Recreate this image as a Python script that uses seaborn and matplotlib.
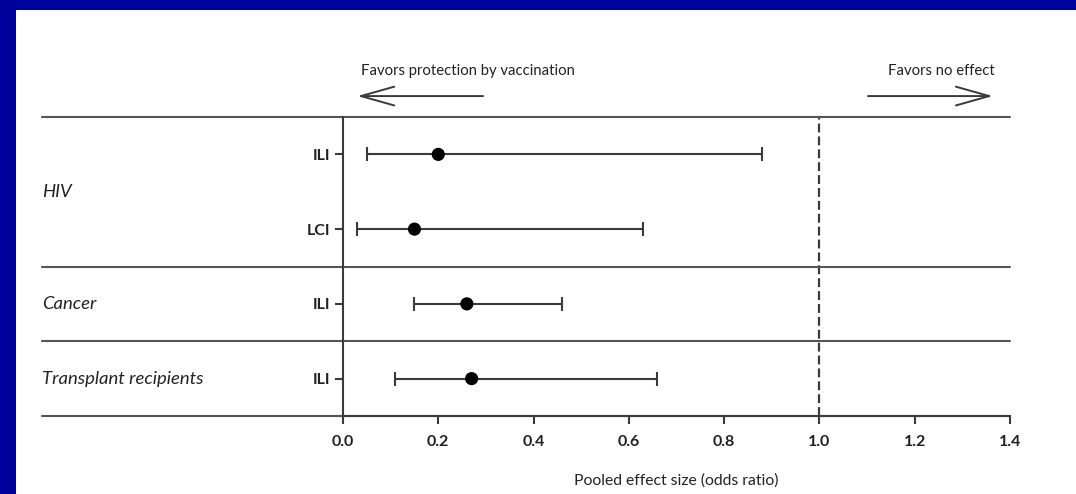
import pandas as pd
import matplotlib.pyplot as plt
import seaborn as sns
from matplotlib.patches import Rectangle

# Pooled odds ratios with 95% CI (top to bottom)
groups = ['HIV', 'HIV', 'Cancer', 'Transplant recipients']
outcomes = ['ILI', 'LCI', 'ILI', 'ILI']
odds_ratio = [0.20, 0.15, 0.26, 0.27]
ci_low = [0.05, 0.03, 0.15, 0.11]
ci_high = [0.88, 0.63, 0.46, 0.66]
x_ticks = [0.0, 0.2, 0.4, 0.6, 0.8, 1.0, 1.2, 1.4]

df = pd.DataFrame({'group': groups, 'outcome': outcomes, 'OR': odds_ratio,
                   'lo': ci_low, 'hi': ci_high})
df['row'] = range(len(df))

sns.set_style('ticks')
plt.rcParams['font.family'] = ['Lato', 'DejaVu Sans']

line_col = '#3a3a3a'
text_col = '#222222'

fig = plt.figure(figsize=(10.76, 4.94), dpi=100)
fig.patch.set_facecolor('#00009c')
# white slide panel inside the blue frame
fig.add_artist(Rectangle((16 / 1076, 0), 1, 1 - 10 / 494, transform=fig.transFigure,
                         facecolor='white', edgecolor='none', zorder=-5))

ax = fig.add_axes([343 / 1076, 1 - 416 / 494, 667 / 1076, 299 / 494])
ax.set_facecolor('none')

# confidence intervals
ax.errorbar(df['OR'], df['row'], xerr=[df['OR'] - df['lo'], df['hi'] - df['OR']],
            fmt='none', ecolor=line_col, elinewidth=1.5, capsize=5, capthick=1.5, zorder=2)
# point estimates
sns.scatterplot(data=df, x='OR', y='row', color='black', s=90, edgecolor='none',
                ax=ax, zorder=3, legend=False)

# line of no effect
ax.axvline(1.0, color=line_col, lw=1.6, ls=(0, (4, 1.8)), zorder=1)

ax.set_xlim(0, 1.4)
ax.set_ylim(3.5, -0.5)

# horizontal separators, extended into the label area
left_ext = (42 - 343) / 667
for yy in [-0.5, 1.5, 2.5, 3.5]:
    ax.plot([left_ext, 1], [yy, yy], transform=ax.get_yaxis_transform(),
            color='#555555', lw=1.5, clip_on=False, zorder=1)

# group labels
group_pos = df.groupby('group', sort=False)['row'].mean()
for name, yy in group_pos.items():
    ax.text(left_ext, yy, name, transform=ax.get_yaxis_transform(), ha='left',
            va='center', fontsize=13.3, style='italic', color=text_col)

ax.set_yticks(df['row'], labels=df['outcome'])
ax.set_xticks(x_ticks, labels=[f'{t:.1f}' for t in x_ticks])
ax.tick_params(axis='both', length=6, width=1.5, color=line_col, labelsize=11.5,
               labelcolor=text_col)
ax.tick_params(axis='x', pad=8)
ax.tick_params(axis='y', pad=3)
for lab in ax.get_xticklabels() + ax.get_yticklabels():
    lab.set_fontweight('bold')

sns.despine(ax=ax, top=True, right=True)
for side in ['left', 'bottom']:
    ax.spines[side].set_color(line_col)
    ax.spines[side].set_linewidth(1.5)

ax.set_xlabel('Pooled effect size (odds ratio)', fontsize=11.3, color=text_col, labelpad=17)
ax.set_ylabel('')

# direction arrows above the plot
arrow_y = -0.78
text_y = -1.12
arrow_style = '->,head_length=1.6,head_width=0.45'
ax.annotate('', xy=(0.03, arrow_y), xytext=(0.294, arrow_y), annotation_clip=False,
            arrowprops=dict(arrowstyle=arrow_style, color=line_col, lw=1.4,
                            shrinkA=0, shrinkB=0, mutation_scale=15))
ax.annotate('', xy=(1.364, arrow_y), xytext=(1.102, arrow_y), annotation_clip=False,
            arrowprops=dict(arrowstyle=arrow_style, color=line_col, lw=1.4,
                            shrinkA=0, shrinkB=0, mutation_scale=15))
ax.text(0.262, text_y, 'Favors protection by vaccination', ha='center', va='center',
        fontsize=10.7, color=text_col)
ax.text(1.257, text_y, 'Favors no effect', ha='center', va='center',
        fontsize=10.7, color=text_col)

fig.savefig('out.png', dpi=100, facecolor=fig.get_facecolor())
